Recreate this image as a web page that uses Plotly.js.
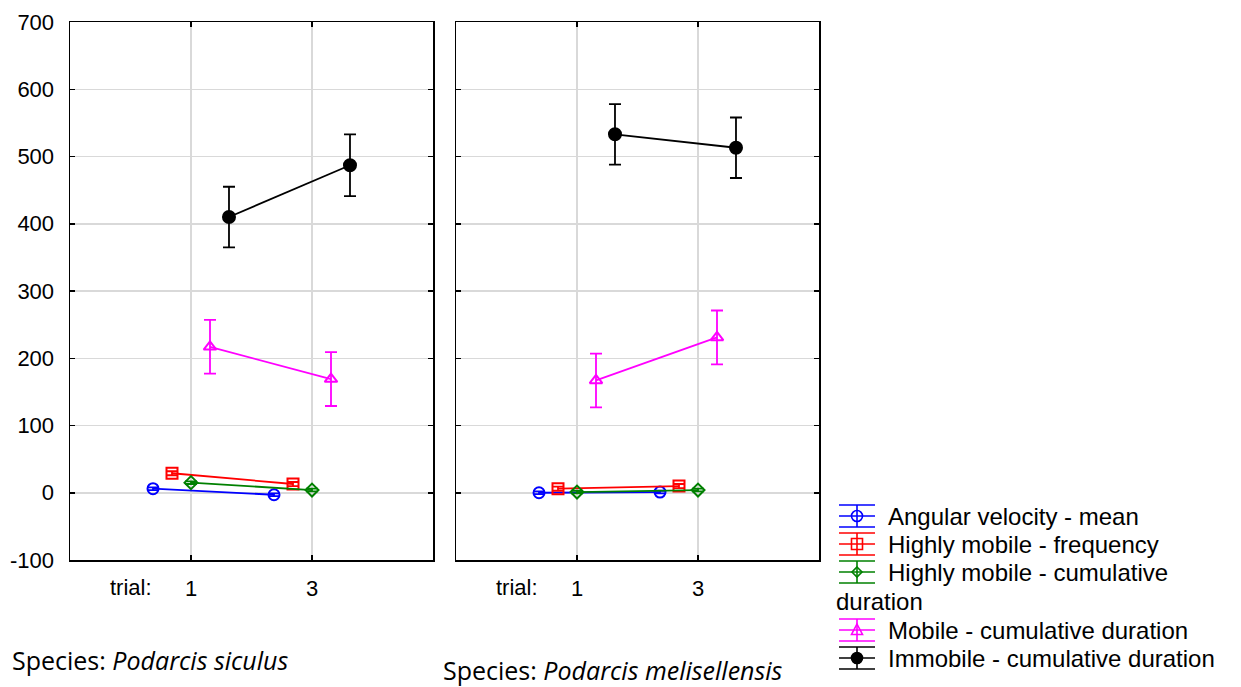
<!DOCTYPE html>
<html>
<head>
<meta charset="utf-8">
<script src="https://cdn.plot.ly/plotly-3.0.1.min.js"></script>
<style>html,body{margin:0;padding:0;background:#fff;}#chart{width:1241px;height:687px;}</style>
</head>
<body>
<div id="chart"></div>
<script>
// ---- data ----
const trialLabels = ["1", "3"];
const seriesNames = [
  "Angular velocity - mean",
  "Highly mobile - frequency",
  "Highly mobile - cumulative",
  "Mobile - cumulative duration",
  "Immobile - cumulative duration"
];
// Species: Podarcis siculus
const siculusAngular = [6, -3];
const siculusAngularErr = [2, 2];
const siculusHMFreq = [29, 13];
const siculusHMFreqErr = [3, 3];
const siculusHMCum = [15, 4];
const siculusHMCumErr = [2, 2];
const siculusMobile = [217, 169];
const siculusMobileErr = [40, 40];
const siculusImmobile = [410, 487];
const siculusImmobileErr = [45, 46];
// Species: Podarcis melisellensis
const meliAngular = [0, 1];
const meliAngularErr = [2, 2];
const meliHMFreq = [6, 10];
const meliHMFreqErr = [3, 3];
const meliHMCum = [1, 4];
const meliHMCumErr = [2, 2];
const meliMobile = [167, 231];
const meliMobileErr = [40, 40];
const meliImmobile = [533, 513];
const meliImmobileErr = [45, 45];

const yTicks = [-100, 0, 100, 200, 300, 400, 500, 600, 700];
const yTickText = ["-100", "0", "100", "200", "300", "400", "500", "600", "700"];

// ---- styling ----
const W = 1241, H = 687;
const colors = ["#0000ff", "#ff0000", "#008000", "#ff00ff", "#000000"];
const symbols = ["circle-open", "square-open", "diamond-open", "triangle-up-open", "circle"];
const sizes = [11, 11, 10, 11, 12];
const step = 0.157;

const panels = [
  {xa: "x", ya: "y", vals: [siculusAngular, siculusHMFreq, siculusHMCum, siculusMobile, siculusImmobile],
   errs: [siculusAngularErr, siculusHMFreqErr, siculusHMCumErr, siculusMobileErr, siculusImmobileErr]},
  {xa: "x2", ya: "y2", vals: [meliAngular, meliHMFreq, meliHMCum, meliMobile, meliImmobile],
   errs: [meliAngularErr, meliHMFreqErr, meliHMCumErr, meliMobileErr, meliImmobileErr]}
];

const traces = [];
panels.forEach(p => {
  p.vals.forEach((v, i) => {
    const off = (i - 2) * step;
    traces.push({
      type: "scatter",
      mode: "lines+markers",
      x: trialLabels.map((t, k) => k + 1 + off),
      y: v,
      xaxis: p.xa, yaxis: p.ya,
      name: seriesNames[i],
      showlegend: false,
      line: {color: colors[i], width: 1.8},
      marker: {symbol: symbols[i], size: sizes[i], color: colors[i], line: {color: colors[i], width: 2}},
      error_y: {type: "data", array: p.errs[i], visible: true, color: colors[i], thickness: 1.8, width: 6},
      cliponaxis: false
    });
  });
});

const fontMain = {family: "Liberation Sans, Arial, sans-serif", size: 22, color: "#000"};
const axisCommon = {
  range: [0, 3], tickvals: [1, 2], ticktext: trialLabels,
  showgrid: true, gridcolor: "#d9d9d9", gridwidth: 1.5,
  showline: true, linecolor: "#000", linewidth: 1.5, mirror: "ticks",
  ticks: "inside", ticklen: 5, tickcolor: "#000", tickwidth: 1.5,
  zeroline: false, tickfont: fontMain, ticklabelstandoff: 8, fixedrange: true,
  automargin: false
};
const yCommon = {
  range: [-100, 700], tickvals: yTicks, ticktext: yTickText,
  showgrid: true, gridcolor: "#d9d9d9", gridwidth: 1.5,
  showline: true, linecolor: "#000", linewidth: 1.5, mirror: "ticks",
  ticks: "inside", ticklen: 5, tickcolor: "#000", tickwidth: 1.5,
  zeroline: false, tickfont: fontMain, ticklabelstandoff: 10,
  automargin: false,
  domain: [1 - 560 / H, 1 - 22 / H]
};

// ---- hand-built legend (Statistica style: line, marker and error-bar caps) ----
const px = x => x / W, py = y => 1 - y / H;
const legFont = {family: "Liberation Sans, Arial, sans-serif", size: 24, color: "#000"};
const legRows = [516, 544, 572, 630, 658];
const symX0 = 839, symX1 = 875, symXc = 857, textX = 886, cap = 11;
const shapes = [];
const annotations = [];
legRows.forEach((yc, i) => {
  const c = colors[i];
  [yc - cap, yc, yc + cap].forEach(yy => shapes.push({type: "line", xref: "paper", yref: "paper",
    x0: px(symX0), x1: px(symX1), y0: py(yy), y1: py(yy), line: {color: c, width: 1.6}}));
  shapes.push({type: "line", xref: "paper", yref: "paper", x0: px(symXc), x1: px(symXc),
    y0: py(yc - cap), y1: py(yc + cap), line: {color: c, width: 1.6}});
  const r = 5.5;
  if (i === 0 || i === 4) {
    shapes.push({type: "circle", xref: "paper", yref: "paper", x0: px(symXc - r), x1: px(symXc + r),
      y0: py(yc - r), y1: py(yc + r), line: {color: c, width: 1.6},
      fillcolor: i === 4 ? c : "rgba(0,0,0,0)"});
  } else if (i === 1) {
    shapes.push({type: "rect", xref: "paper", yref: "paper", x0: px(symXc - r), x1: px(symXc + r),
      y0: py(yc - r), y1: py(yc + r), line: {color: c, width: 1.6}});
  } else if (i === 2) {
    const d = 5;
    shapes.push({type: "path", xref: "paper", yref: "paper",
      path: `M ${px(symXc)} ${py(yc - d)} L ${px(symXc + d)} ${py(yc)} L ${px(symXc)} ${py(yc + d)} L ${px(symXc - d)} ${py(yc)} Z`,
      line: {color: c, width: 1.6}});
  } else if (i === 3) {
    shapes.push({type: "path", xref: "paper", yref: "paper",
      path: `M ${px(symXc)} ${py(yc - 6)} L ${px(symXc + 5.5)} ${py(yc + 4.5)} L ${px(symXc - 5.5)} ${py(yc + 4.5)} Z`,
      line: {color: c, width: 1.6}});
  }
  annotations.push({text: seriesNames[i], xref: "paper", yref: "paper", x: px(textX), y: py(yc),
    xanchor: "left", yanchor: "middle", showarrow: false, font: legFont});
});
annotations.push({text: "duration", xref: "paper", yref: "paper", x: px(834), y: py(601),
  xanchor: "left", yanchor: "middle", showarrow: false, font: legFont});

annotations.push(
  {text: "trial:", xref: "x", yref: "paper", x: 0.5, y: py(587), showarrow: false,
   xanchor: "center", yanchor: "middle", font: fontMain},
  {text: "trial:", xref: "x2", yref: "paper", x: 0.5, y: py(587), showarrow: false,
   xanchor: "center", yanchor: "middle", font: fontMain},
  {text: "Species: <i>Podarcis siculus</i>", xref: "paper", yref: "paper", x: px(10), y: py(660),
   showarrow: false, xanchor: "left", yanchor: "middle",
   font: {family: "Open Sans, Noto Sans, sans-serif", size: 25, color: "#000"}},
  {text: "Species: <i>Podarcis melisellensis</i>", xref: "paper", yref: "paper", x: px(441), y: py(670),
   showarrow: false, xanchor: "left", yanchor: "middle",
   font: {family: "Open Sans, Noto Sans, sans-serif", size: 25, color: "#000"}}
);

const layout = {
  width: W, height: H,
  margin: {l: 0, r: 0, t: 0, b: 0, autoexpand: false},
  paper_bgcolor: "#fff", plot_bgcolor: "#fff",
  font: fontMain,
  xaxis: Object.assign({}, axisCommon, {domain: [70 / W, 433 / W], anchor: "y"}),
  xaxis2: Object.assign({}, axisCommon, {domain: [456 / W, 819 / W], anchor: "y2"}),
  yaxis: Object.assign({}, yCommon, {anchor: "x"}),
  yaxis2: Object.assign({}, yCommon, {anchor: "x2", showticklabels: false}),
  showlegend: false,
  shapes: shapes,
  annotations: annotations
};

Plotly.newPlot("chart", traces, layout, {staticPlot: true, displayModeBar: false});
</script>
</body>
</html>
